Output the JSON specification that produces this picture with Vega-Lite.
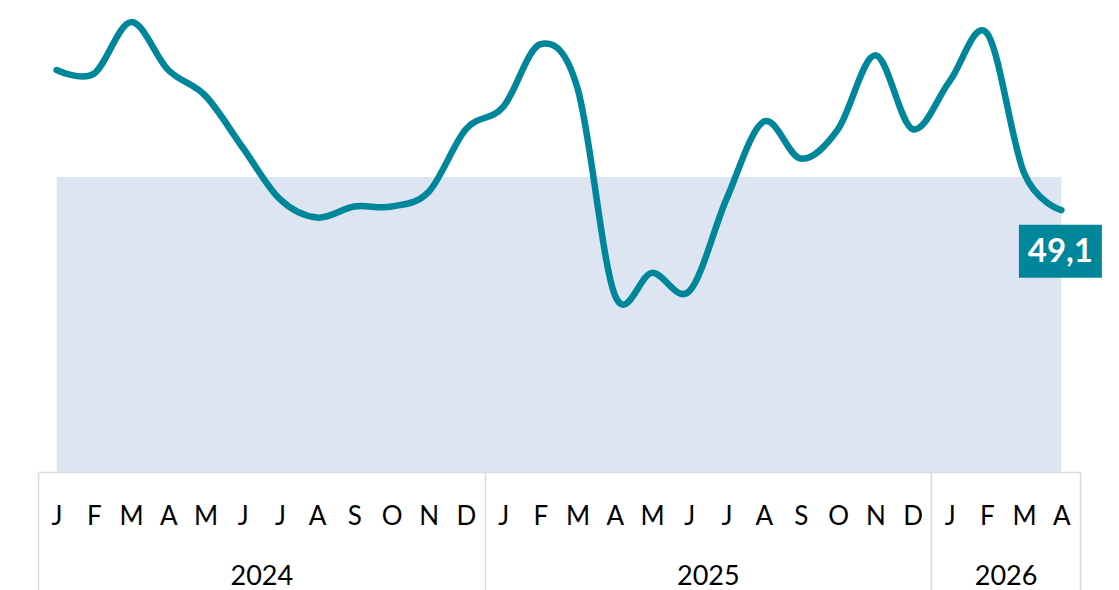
{
  "$schema": "https://vega.github.io/schema/vega-lite/v6.json",
  "width": 1042,
  "height": 472,
  "padding": {"left": 38, "top": 0, "right": 39, "bottom": 118},
  "autosize": {"type": "none"},
  "background": "white",
  "config": {
    "view": {"stroke": null},
    "font": "Lato",
    "locale": {"number": {"decimal": ",", "thousands": ".", "grouping": [3], "currency": ["", " €"]}}
  },
  "datasets": {
    "pmi": [
      {"m": "2024-01", "v": 52.9},
      {"m": "2024-02", "v": 52.8},
      {"m": "2024-03", "v": 54.2},
      {"m": "2024-04", "v": 52.9},
      {"m": "2024-05", "v": 52.2},
      {"m": "2024-06", "v": 50.8},
      {"m": "2024-07", "v": 49.4},
      {"m": "2024-08", "v": 48.9},
      {"m": "2024-09", "v": 49.2},
      {"m": "2024-10", "v": 49.2},
      {"m": "2024-11", "v": 49.6},
      {"m": "2024-12", "v": 51.3},
      {"m": "2025-01", "v": 51.9},
      {"m": "2025-02", "v": 53.6},
      {"m": "2025-03", "v": 52.4},
      {"m": "2025-04", "v": 46.8},
      {"m": "2025-05", "v": 47.4},
      {"m": "2025-06", "v": 46.9},
      {"m": "2025-07", "v": 49.4},
      {"m": "2025-08", "v": 51.5},
      {"m": "2025-09", "v": 50.5},
      {"m": "2025-10", "v": 51.3},
      {"m": "2025-11", "v": 53.3},
      {"m": "2025-12", "v": 51.3},
      {"m": "2026-01", "v": 52.6},
      {"m": "2026-02", "v": 53.9},
      {"m": "2026-03", "v": 50.1},
      {"m": "2026-04", "v": 49.1}
    ],
    "years": [
      {"year": "2024", "mid": 6},
      {"year": "2025", "mid": 18},
      {"year": "2026", "mid": 26}
    ],
    "seps": [
      {"p": 0},
      {"p": 12},
      {"p": 24},
      {"p": 28}
    ]
  },
  "layer": [
    {
      "data": {"name": "pmi"},
      "layer": [
        {
          "mark": {"type": "area", "color": "#DCE5F1", "opacity": 1},
          "encoding": {
            "x": {
              "field": "m",
              "type": "ordinal",
              "sort": null,
              "scale": {"type": "point", "padding": 0.5},
              "axis": {
                "orient": "bottom",
                "title": null,
                "ticks": false,
                "tickSize": 0,
                "grid": false,
                "domain": true,
                "domainColor": "#D9D9D9",
                "domainWidth": 1.5,
                "labelAngle": 0,
                "labelFontSize": 26,
                "labelFont": "Lato",
                "labelColor": "#000000",
                "labelPadding": 52,
                "labelBaseline": "alphabetic",
                "labelOverlap": false,
                "labelFlush": false,
                "labelExpr": "['J','F','M','A','M','J','J','A','S','O','N','D'][toNumber(slice(datum.value, 5)) - 1]"
              }
            },
            "y": {
              "datum": 50,
              "type": "quantitative",
              "scale": {"domain": [42, 54.8], "nice": false, "zero": false},
              "axis": null
            }
          }
        },
        {
          "mark": {"type": "line", "color": "#00869B", "strokeWidth": 6.5, "interpolate": "cardinal", "strokeCap": "round", "strokeJoin": "round"},
          "encoding": {
            "x": {"field": "m", "type": "ordinal", "sort": null},
            "y": {"field": "v", "type": "quantitative"}
          }
        },
        {
          "transform": [{"filter": "datum.m == '2026-04'"}],
          "mark": {
            "type": "point",
            "shape": "M-1,-0.64L1,-0.64L1,0.64L-1,0.64Z",
            "size": 6889,
            "filled": true,
            "color": "#00869B",
            "opacity": 1,
            "strokeWidth": 0,
            "yOffset": 41,
            "xOffset": -1
          },
          "encoding": {
            "x": {"field": "m", "type": "ordinal", "sort": null},
            "y": {"field": "v", "type": "quantitative"}
          }
        },
        {
          "transform": [{"filter": "datum.m == '2026-04'"}],
          "mark": {
            "type": "text",
            "color": "#FFFFFF",
            "font": "Lato",
            "fontWeight": "bold",
            "fontSize": 33,
            "align": "center",
            "baseline": "middle",
            "yOffset": 42,
            "xOffset": -1
          },
          "encoding": {
            "x": {"field": "m", "type": "ordinal", "sort": null},
            "y": {"field": "v", "type": "quantitative"},
            "text": {"field": "v", "type": "quantitative", "format": ".1f"}
          }
        }
      ]
    },
    {
      "data": {"name": "years"},
      "mark": {"type": "rule", "opacity": 0},
      "encoding": {
        "x": {
          "field": "mid",
          "type": "quantitative",
          "scale": {"domain": [0, 28], "nice": false, "zero": false},
          "axis": {
            "orient": "bottom",
            "title": null,
            "values": [6, 18, 26],
            "ticks": false,
            "tickSize": 0,
            "grid": false,
            "domain": false,
            "labelAngle": 0,
            "labelFontSize": 27,
            "labelFont": "Lato",
            "labelColor": "#000000",
            "labelPadding": 112,
            "labelBaseline": "alphabetic",
            "labelOverlap": false,
            "labelFlush": false,
            "labelExpr": "'' + (2024 + floor(datum.value / 12))"
          }
        }
      }
    },
    {
      "data": {"name": "seps"},
      "mark": {"type": "rule", "opacity": 0},
      "encoding": {
        "x": {
          "field": "p",
          "type": "quantitative",
          "scale": {"domain": [0, 28], "nice": false, "zero": false},
          "axis": {
            "orient": "bottom",
            "title": null,
            "values": [0, 12, 24, 28],
            "ticks": true,
            "tickSize": 118,
            "tickColor": "#D9D9D9",
            "tickWidth": 1.5,
            "grid": false,
            "domain": false,
            "labels": false
          }
        }
      }
    }
  ],
  "resolve": {"scale": {"x": "independent"}, "axis": {"x": "independent"}}
}
